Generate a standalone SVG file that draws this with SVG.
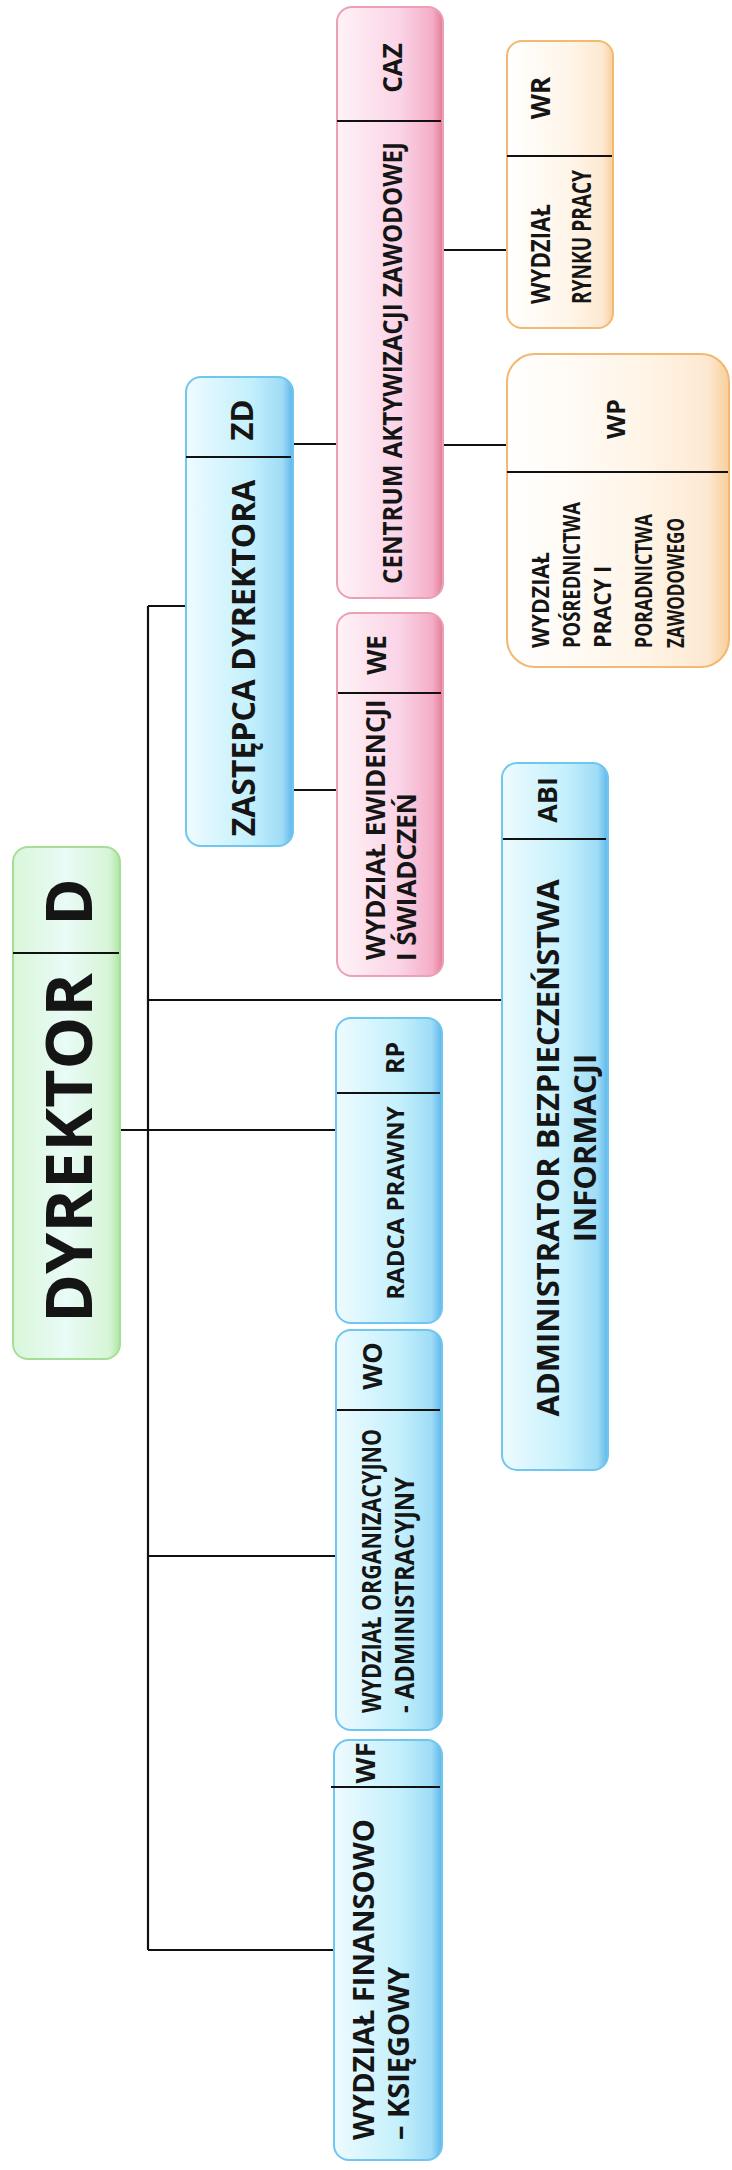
<svg xmlns="http://www.w3.org/2000/svg" width="732" height="2170" viewBox="0 0 732 2170">
<defs>
<linearGradient id="gBlue" x1="0" y1="0" x2="1" y2="0">
<stop offset="0" stop-color="#eefbff"/><stop offset="0.6" stop-color="#c4f0fc"/><stop offset="0.9" stop-color="#9fdcf6"/><stop offset="1" stop-color="#5db7ea"/>
</linearGradient>
<linearGradient id="gPink" x1="0" y1="0" x2="1" y2="0">
<stop offset="0" stop-color="#fff3f7"/><stop offset="0.6" stop-color="#fad3e6"/><stop offset="0.9" stop-color="#f4adc6"/><stop offset="1" stop-color="#e27d95"/>
</linearGradient>
<linearGradient id="gOrange" x1="0" y1="0" x2="1" y2="0">
<stop offset="0" stop-color="#ffffff"/><stop offset="0.6" stop-color="#fff5e8"/><stop offset="0.9" stop-color="#fde9d2"/><stop offset="1" stop-color="#f8cf9a"/>
</linearGradient>
<linearGradient id="gGreen" x1="0" y1="0" x2="1" y2="0">
<stop offset="0" stop-color="#d9f6d9"/><stop offset="0.5" stop-color="#e9fbf6"/><stop offset="0.9" stop-color="#d6f5d6"/><stop offset="1" stop-color="#aee6a2"/>
</linearGradient>
<style>
.t{font-family:"Open Sans","Liberation Sans",sans-serif;font-weight:700;fill:#151515}
.blue{fill:url(#gBlue);stroke:#6fc6ee;stroke-width:2}
.pink{fill:url(#gPink);stroke:#eba0b4;stroke-width:2}
.orange{fill:url(#gOrange);stroke:#f3b872;stroke-width:2}
.green{fill:url(#gGreen);stroke:#a6de98;stroke-width:2}
.div{stroke:#111;stroke-width:2.2}
.con{stroke:#111;stroke-width:2.2;fill:none}
</style>
</defs>
<rect width="732" height="2170" fill="#ffffff"/>

<g id="connectors">
<path class="con" d="M148 606 V1950"/>
<path class="con" d="M148 606 H187"/>
<path class="con" d="M148 1000 H502"/>
<path class="con" d="M120 1130 H336"/>
<path class="con" d="M148 1556 H336"/>
<path class="con" d="M148 1950 H334"/>
<path class="con" d="M292 444 H337"/>
<path class="con" d="M292 790 H337"/>
<path class="con" d="M443 250 H507"/>
<path class="con" d="M443 445 H507"/>
</g>

<g id="node-D">
<rect class="green" x="13" y="847" width="107" height="512" rx="15"/>
<line class="div" x1="13" y1="953" x2="119" y2="953"/>
<text class="t" font-size="64" text-anchor="middle" transform="translate(69,902) rotate(-90)" dy="0.36em">D</text>
<text class="t" font-size="64" text-anchor="middle" textLength="350" lengthAdjust="spacingAndGlyphs" transform="translate(69,1148) rotate(-90)" dy="0.36em">DYREKTOR</text>
</g>

<g id="node-ZD">
<rect class="blue" x="186" y="377" width="107" height="469" rx="15"/>
<line class="div" x1="186" y1="457" x2="291" y2="457"/>
<text class="t" font-size="31" text-anchor="middle" transform="translate(242,420) rotate(-90)" dy="0.36em">ZD</text>
<text class="t" font-size="32" text-anchor="middle" transform="translate(243,658) rotate(-90)" dy="0.36em">ZASTĘPCA DYREKTORA</text>
</g>

<g id="node-CAZ">
<rect class="pink" x="337" y="7" width="106" height="591" rx="15"/>
<line class="div" x1="337" y1="121" x2="441" y2="121"/>
<text class="t" font-size="26" text-anchor="middle" transform="translate(393,68) rotate(-90)" dy="0.36em">CAZ</text>
<text class="t" font-size="26" text-anchor="middle" textLength="442" lengthAdjust="spacingAndGlyphs" transform="translate(393,363) rotate(-90)" dy="0.36em">CENTRUM AKTYWIZACJI ZAWODOWEJ</text>
</g>

<g id="node-WE">
<rect class="pink" x="337" y="613" width="106" height="363" rx="15"/>
<line class="div" x1="338" y1="693" x2="441" y2="693"/>
<text class="t" font-size="26" text-anchor="middle" transform="translate(377,655) rotate(-90)" dy="0.36em">WE</text>
<text class="t" font-size="26" transform="translate(376,960) rotate(-90)" dy="0.36em">WYDZIAŁ EWIDENCJI</text>
<text class="t" font-size="26" transform="translate(407,961) rotate(-90)" dy="0.36em">I ŚWIADCZEŃ</text>
</g>

<g id="node-RP">
<rect class="blue" x="336" y="1018" width="106" height="305" rx="15"/>
<line class="div" x1="337" y1="1093" x2="440" y2="1093"/>
<text class="t" font-size="25" text-anchor="middle" transform="translate(395,1058) rotate(-90)" dy="0.36em">RP</text>
<text class="t" font-size="24" text-anchor="middle" transform="translate(395,1203) rotate(-90)" dy="0.36em">RADCA PRAWNY</text>
</g>

<g id="node-WO">
<rect class="blue" x="336" y="1330" width="106" height="400" rx="15"/>
<line class="div" x1="337" y1="1410" x2="440" y2="1410"/>
<text class="t" font-size="27" text-anchor="middle" transform="translate(372,1366) rotate(-90)" dy="0.36em">WO</text>
<text class="t" font-size="27" textLength="284" lengthAdjust="spacingAndGlyphs" transform="translate(371,1713) rotate(-90)" dy="0.36em">WYDZIAŁ ORGANIZACYJNO</text>
<text class="t" font-size="27" textLength="236" lengthAdjust="spacingAndGlyphs" transform="translate(404,1713) rotate(-90)" dy="0.36em">- ADMINISTRACYJNY</text>
</g>

<g id="node-WF">
<rect class="blue" x="334" y="1740" width="108" height="420" rx="15"/>
<line class="div" x1="331" y1="1787" x2="440" y2="1787"/>
<text class="t" font-size="27" text-anchor="middle" transform="translate(365,1763) rotate(-90)" dy="0.36em">WF</text>
<text class="t" font-size="29" transform="translate(364,2140) rotate(-90)" dy="0.36em">WYDZIAŁ FINANSOWO</text>
<text class="t" font-size="29" transform="translate(399,2140) rotate(-90)" dy="0.36em">– KSIĘGOWY</text>
</g>

<g id="node-ABI">
<rect class="blue" x="502" y="763" width="106" height="707" rx="15"/>
<line class="div" x1="503" y1="839" x2="606" y2="839"/>
<text class="t" font-size="27" text-anchor="middle" transform="translate(547,800) rotate(-90)" dy="0.36em">ABI</text>
<text class="t" font-size="31" text-anchor="middle" transform="translate(548,1148) rotate(-90)" dy="0.36em">ADMINISTRATOR BEZPIECZEŃSTWA</text>
<text class="t" font-size="31" text-anchor="middle" transform="translate(585,1148) rotate(-90)" dy="0.36em">INFORMACJI</text>
</g>

<g id="node-WR">
<rect class="orange" x="507" y="41" width="106" height="287" rx="15"/>
<line class="div" x1="507" y1="156" x2="612" y2="156"/>
<text class="t" font-size="26" text-anchor="middle" transform="translate(541,98) rotate(-90)" dy="0.36em">WR</text>
<text class="t" font-size="26" textLength="100" lengthAdjust="spacingAndGlyphs" transform="translate(541,304) rotate(-90)" dy="0.36em">WYDZIAŁ</text>
<text class="t" font-size="26" textLength="134" lengthAdjust="spacingAndGlyphs" transform="translate(582,304) rotate(-90)" dy="0.36em">RYNKU PRACY</text>
</g>

<g id="node-WP">
<rect class="orange" x="507" y="354" width="222" height="313" rx="28"/>
<line class="div" x1="507" y1="472" x2="728" y2="472"/>
<text class="t" font-size="25" text-anchor="middle" transform="translate(616,419) rotate(-90)" dy="0.36em">WP</text>
<text class="t" font-size="23" textLength="96" lengthAdjust="spacingAndGlyphs" transform="translate(541,648) rotate(-90)" dy="0.36em">WYDZIAŁ</text>
<text class="t" font-size="23" textLength="146" lengthAdjust="spacingAndGlyphs" transform="translate(572,648) rotate(-90)" dy="0.36em">POŚREDNICTWA</text>
<text class="t" font-size="23" textLength="82" lengthAdjust="spacingAndGlyphs" transform="translate(603,648) rotate(-90)" dy="0.36em">PRACY I</text>
<text class="t" font-size="23" textLength="134" lengthAdjust="spacingAndGlyphs" transform="translate(644,648) rotate(-90)" dy="0.36em">PORADNICTWA</text>
<text class="t" font-size="23" textLength="130" lengthAdjust="spacingAndGlyphs" transform="translate(676,648) rotate(-90)" dy="0.36em">ZAWODOWEGO</text>
</g>
</svg>
